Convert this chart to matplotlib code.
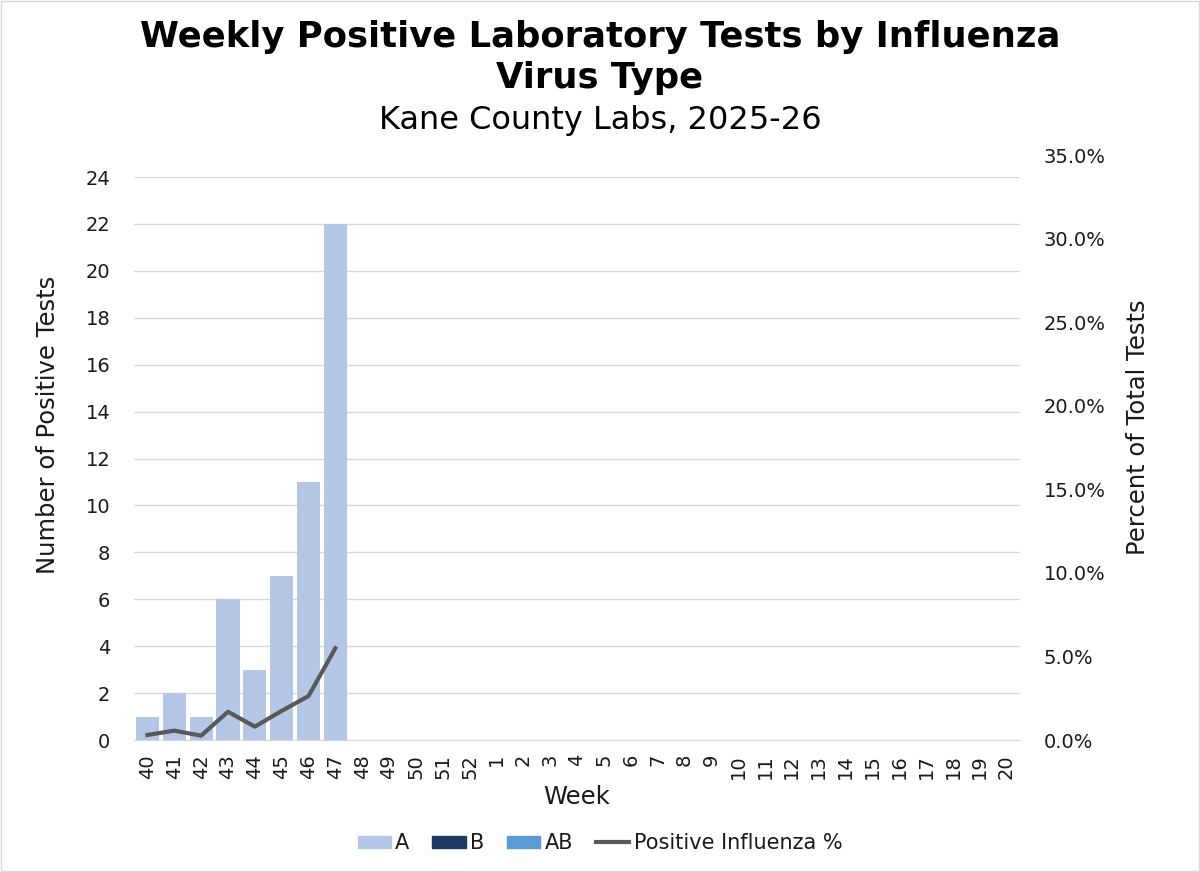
import matplotlib
matplotlib.use("Agg")
import matplotlib.pyplot as plt
from matplotlib.patches import Patch
from matplotlib.lines import Line2D
from matplotlib.ticker import FuncFormatter, MultipleLocator

weeks = [str(w) for w in range(40, 53)] + [str(w) for w in range(1, 21)]
a_counts = [1, 2, 1, 6, 3, 7, 11, 22]
b_counts = [0, 0, 0, 0, 0, 0, 0, 0]
ab_counts = [0, 0, 0, 0, 0, 0, 0, 0]
pct_positive = [0.30, 0.56, 0.26, 1.69, 0.80, 1.74, 2.63, 5.49]

col_a = "#B4C7E7"
col_b = "#203864"
col_ab = "#5B9BD5"
col_line = "#595959"
txt = '#1a1a1a'

plt.rcParams['font.family'] = ['DejaVu Sans']

W, H = 1200, 872
fig = plt.figure(figsize=(12, 8.72), dpi=100)
L, R = 134 / W, 1020 / W
B = (H - 740) / H
T1 = (H - 177) / H
T2 = (H - 155) / H
ax = fig.add_axes([L, B, R - L, T1 - B])
x = list(range(len(weeks)))
n = len(a_counts)
ax.bar(x[:n], a_counts, width=0.86, color=col_a, zorder=2)
ax.bar(x[:n], b_counts, width=0.86, bottom=a_counts, color=col_b, zorder=2)
ax.set_xlim(-0.5, len(weeks) - 0.5)
ax.set_ylim(0, 24)
ax.yaxis.set_major_locator(MultipleLocator(2))
ax.grid(axis='y', color='#D9D9D9', linewidth=1, zorder=0)
ax.set_axisbelow(True)
for s in ['top', 'right', 'left']:
    ax.spines[s].set_visible(False)
ax.spines['bottom'].set_color('#D9D9D9')
ax.set_xticks(x)
ax.set_xticklabels(weeks, rotation=90, fontsize=14)
ax.tick_params(axis='both', length=0, labelsize=14, colors=txt)
ax.tick_params(axis='y', pad=17)
ax.tick_params(axis='x', pad=10)

ax2 = fig.add_axes([L, B, R - L, T2 - B])
ax2.patch.set_visible(False)
ax2.plot(x[:n], pct_positive, color=col_line, linewidth=3, zorder=3)
ax2.set_xlim(-0.5, len(weeks) - 0.5)
ax2.set_ylim(0, 35)
ax2.yaxis.set_major_locator(MultipleLocator(5))
ax2.yaxis.set_major_formatter(FuncFormatter(lambda v, p: f"{v:.1f}%"))
ax2.yaxis.tick_right()
ax2.set_xticks([])
ax2.tick_params(axis='y', length=0, labelsize=14, colors=txt, pad=17)
for s in ['top', 'right', 'left', 'bottom']:
    ax2.spines[s].set_visible(False)

fig.text(48 / W, 1 - 425 / H, "Number of Positive Tests", rotation=90,
         ha='center', va='center', fontsize=17.5, color=txt)
fig.text(1138 / W, 1 - 427 / H, "Percent of Total Tests", rotation=90,
         ha='center', va='center', fontsize=17.5, color=txt)
fig.text(577 / W, 1 - 797 / H, "Week", ha='center', va='center', fontsize=17.5, color=txt)

fig.text(0.5, 1 - 37 / H, "Weekly Positive Laboratory Tests by Influenza",
         ha='center', va='center', fontsize=25.5, fontweight='bold', color='black')
fig.text(0.5, 1 - 78 / H, "Virus Type",
         ha='center', va='center', fontsize=25.5, fontweight='bold', color='black')
fig.text(0.5, 1 - 120 / H, "Kane County Labs, 2025-26", ha='center', va='center',
         fontsize=23, color='black')

handles = [Patch(color=col_a, label='A'), Patch(color=col_b, label='B'),
           Patch(color=col_ab, label='AB'),
           Line2D([0], [0], color=col_line, lw=3, label='Positive Influenza %')]
fig.legend(handles=handles, loc='center', bbox_to_anchor=(0.5, 1 - 843 / H), ncol=4,
           frameon=False, fontsize=15, handlelength=1.6, handleheight=0.5,
           columnspacing=1.1, handletextpad=0.2, labelcolor=txt)

fig.patches.append(plt.Rectangle((0.001, 0.001), 0.998, 0.998, transform=fig.transFigure,
                                 fill=False, edgecolor='#D9D9D9', linewidth=1))
fig.savefig("out.png", dpi=100)
